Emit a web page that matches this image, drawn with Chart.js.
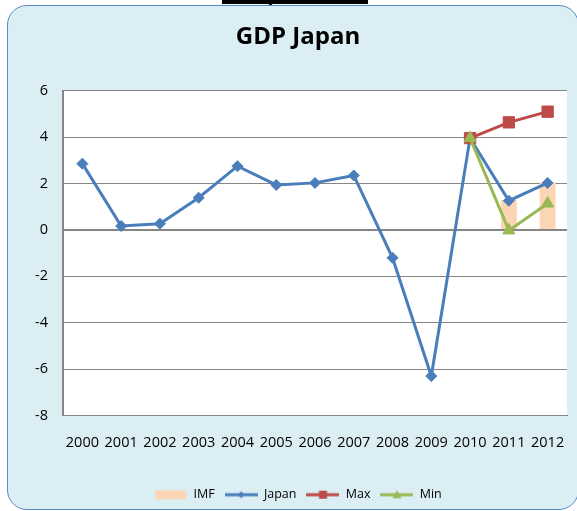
<!DOCTYPE html>
<html>
<head>
<meta charset="utf-8">
<script src="https://cdn.jsdelivr.net/npm/chart.js@4/dist/chart.umd.min.js"></script>
<style>
    html, body { margin: 0; padding: 0; background: #fff; width: 577px; height: 511px; overflow: hidden; }
    #frame { position: absolute; left: 7px; top: 5px; width: 572px; height: 505px; box-sizing: border-box;
             border: 1px solid #5a89c8; border-radius: 20px; background: #daeef3; }
    #topline { position: absolute; left: 222px; top: 0; width: 146px; height: 4px; background: #000; }
    #topmark { position: absolute; left: 269px; top: 3px; width: 3px; height: 2px; background: #000; }
    #wrap { position: absolute; left: 0; top: 0; width: 577px; height: 511px; }
</style>
</head>
<body>
<div id="topline"></div>
<div id="topmark"></div>
<div id="frame"></div>
<div id="wrap"><canvas id="gdp-japan" width="577" height="511"></canvas></div>
<script>
const years = ["2000", "2001", "2002", "2003", "2004", "2005", "2006", "2007", "2008", "2009", "2010", "2011", "2012"];
const japanGrowth = [2.86, 0.17, 0.27, 1.39, 2.75, 1.94, 2.03, 2.35, -1.2, -6.3, 3.96, 1.26, 2.03];
const maxForecast = [null, null, null, null, null, null, null, null, null, null, 3.96, 4.64, 5.1];
const minForecast = [null, null, null, null, null, null, null, null, null, null, 3.96, -0.02, 1.14];
const imfForecast = [null, null, null, null, null, null, null, null, null, null, null, 1.3, 2.05];
const yAxisMin = -8;
const yAxisMax = 6;
const yAxisStep = 2;

const colors = {
    imf: "#fcd5b5",
    japan: "#4a7ebb",
    max: "#be4b48",
    min: "#98b954",
    grid: "#868686"
};

Chart.defaults.font.family = "'Open Sans', sans-serif";
Chart.defaults.color = "#000";

// Excel style legend keys: a small bar, or a line with its marker
function legendIcon(kind, color) {
    const c = document.createElement("canvas");
    c.width = 33;
    c.height = 12;
    const g = c.getContext("2d");
    g.fillStyle = color;
    g.strokeStyle = color;
    if (kind === "bar") {
        g.fillRect(1, 1.5, 31, 9);
        return c;
    }
    g.lineWidth = 3;
    g.beginPath();
    g.moveTo(0, 6);
    g.lineTo(33, 6);
    g.stroke();
    g.beginPath();
    if (kind === "diamond") {
        g.moveTo(16.5, 2.5); g.lineTo(20, 6); g.lineTo(16.5, 9.5); g.lineTo(13, 6);
    } else if (kind === "square") {
        g.rect(12.5, 2, 8, 8);
    } else {
        g.moveTo(16.5, 1.5); g.lineTo(21, 9.5); g.lineTo(12, 9.5);
    }
    g.closePath();
    g.fill();
    return c;
}

const legendIcons = [
    legendIcon("bar", colors.imf),
    legendIcon("diamond", colors.japan),
    legendIcon("square", colors.max),
    legendIcon("triangle", colors.min)
];

// white plot area inside the blue frame
const plotBackground = {
    id: "plotBackground",
    beforeDraw(chart) {
        const {ctx, chartArea: a} = chart;
        ctx.save();
        ctx.fillStyle = "#fff";
        ctx.fillRect(a.left, a.top, a.right - a.left, a.bottom - a.top);
        ctx.restore();
    }
};

const lineSeries = (label, data, color, style, radius, order) => ({
    type: "line",
    label: label,
    data: data,
    borderColor: color,
    backgroundColor: color,
    borderWidth: 3,
    pointStyle: style,
    pointRadius: radius,
    pointHoverRadius: radius,
    pointBorderWidth: 1,
    tension: 0,
    fill: false,
    order: order
});

new Chart(document.getElementById("gdp-japan"), {
    data: {
        labels: years,
        datasets: [
            {
                type: "bar",
                label: "IMF",
                data: imfForecast,
                backgroundColor: colors.imf,
                borderWidth: 0,
                barPercentage: 0.41,
                categoryPercentage: 1,
                order: 4
            },
            lineSeries("Japan", japanGrowth, colors.japan, "rectRot", 5.5, 3),
            lineSeries("Max", maxForecast, colors.max, "rect", 8, 2),
            lineSeries("Min", minForecast, colors.min, "triangle", 7, 1)
        ]
    },
    options: {
        responsive: false,
        animation: false,
        layout: {padding: {left: 29, right: 10, top: 0, bottom: 0}},
        plugins: {
            title: {
                display: true,
                text: "GDP Japan",
                font: {size: 24, weight: "bold"},
                color: "#000",
                padding: {top: 23, bottom: 39}
            },
            legend: {
                position: "bottom",
                labels: {
                    usePointStyle: true,
                    pointStyleWidth: 33,
                    boxHeight: 12,
                    padding: 10,
                    font: {size: 12.5},
                    color: "#000",
                    sort: (a, b) => a.datasetIndex - b.datasetIndex,
                    generateLabels(chart) {
                        const items = Chart.defaults.plugins.legend.labels.generateLabels(chart);
                        items.forEach(item => {
                            item.pointStyle = legendIcons[item.datasetIndex];
                        });
                        return items;
                    }
                }
            },
            tooltip: {enabled: false}
        },
        scales: {
            x: {
                offset: true,
                grid: {display: false},
                border: {display: true, color: colors.grid, width: 1},
                ticks: {font: {size: 14.5}, color: "#000", padding: 11, maxRotation: 0, autoSkip: false},
                afterFit(scale) {
                    scale.height = 63;
                    // keep the plot running to the right edge like the original
                    scale.paddingLeft = 0;
                    scale.paddingRight = 0;
                }
            },
            y: {
                min: yAxisMin,
                max: yAxisMax,
                ticks: {stepSize: yAxisStep, font: {size: 14.5}, color: "#000", padding: 15},
                grid: {
                    color: colors.grid,
                    lineWidth: ctx => (ctx.tick && ctx.tick.value === 0 ? 2 : 1),
                    drawTicks: false
                },
                border: {color: colors.grid, width: 2},
                afterFit(scale) { scale.width = 34; }
            }
        }
    },
    plugins: [plotBackground]
});
</script>
</body>
</html>
